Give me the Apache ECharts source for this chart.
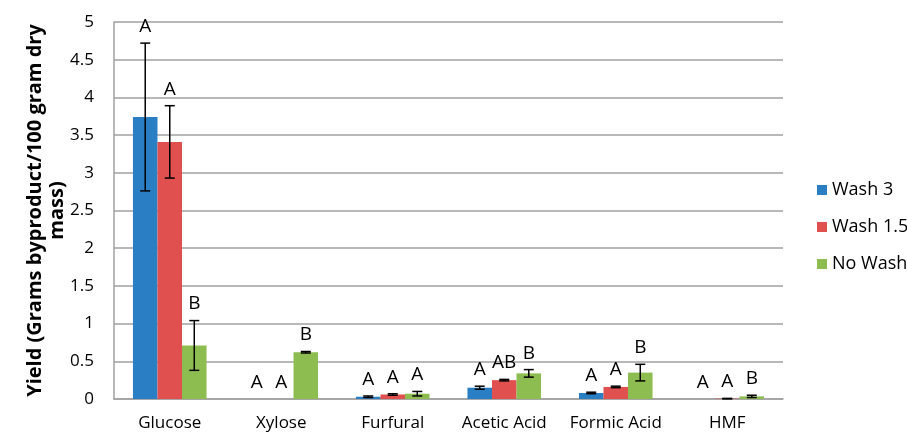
<!DOCTYPE html>
<html><head><meta charset="utf-8">
<script src="https://cdn.jsdelivr.net/npm/echarts@6/dist/echarts.min.js"></script>
<style>html,body{margin:0;padding:0;background:#fff}#c{width:907px;height:433px}</style>
</head><body><div id="c"></div>
<script>
const categories = ['Glucose', 'Xylose', 'Furfural', 'Acetic Acid', 'Formic Acid', 'HMF'];
const seriesNames = ['Wash 3', 'Wash 1.5', 'No Wash'];
const wash3 = [3.74, 0, 0.03, 0.15, 0.08, 0];
const wash15 = [3.41, 0, 0.06, 0.25, 0.16, 0.005];
const noWash = [0.71, 0.62, 0.07, 0.34, 0.35, 0.035];
const wash3Err = [0.98, 0, 0.01, 0.02, 0.01, 0];
const wash15Err = [0.48, 0, 0.01, 0.01, 0.01, 0.003];
const noWashErr = [0.33, 0.01, 0.03, 0.05, 0.11, 0.015];
const wash3Letters = ['A', 'A', 'A', 'A', 'A', 'A'];
const wash15Letters = ['A', 'A', 'A', 'AB', 'A', 'A'];
const noWashLetters = ['B', 'B', 'A', 'B', 'B', 'B'];
const yTicks = { min: 0, max: 5, interval: 0.5 };

const colors = ['#2A7FC4', '#E0504E', '#8DBD50'];
const values = [wash3, wash15, noWash];
const errs = [wash3Err, wash15Err, noWashErr];
const letters = [wash3Letters, wash15Letters, noWashLetters];
const catGap = 0.34;
const FONT = 'Open Sans';

const chart = echarts.init(document.getElementById('c'));
const series = [];
values.forEach((vals, s) => {
  series.push({
    name: seriesNames[s], type: 'bar', data: vals,
    barGap: '0%', barCategoryGap: (catGap * 100) + '%',
    itemStyle: { color: colors[s] }
  });
});
values.forEach((vals, s) => {
  series.push({
    name: 'err' + s, type: 'custom', z: 5,
    data: vals.map((v, i) => [i, v, errs[s][i]]),
    encode: { x: 0, y: 1 },
    renderItem: function (params, api) {
      const i = api.value(0), v = api.value(1), e = api.value(2);
      const band = api.size([1, 0])[0];
      const bw = band * (1 - catGap) / 3;
      const cx = api.coord([i, 0])[0] + (s - 1) * bw;
      const yTop = api.coord([i, v + e])[1];
      const yBot = api.coord([i, Math.max(v - e, 0)])[1];
      const children = [];
      if (e > 0) {
        const cap = 5;
        const st = { stroke: '#000', lineWidth: 1.5 };
        children.push({ type: 'line', shape: { x1: cx, y1: yTop, x2: cx, y2: yBot }, style: st });
        children.push({ type: 'line', shape: { x1: cx - cap, y1: yTop, x2: cx + cap, y2: yTop }, style: st });
        children.push({ type: 'line', shape: { x1: cx - cap, y1: yBot, x2: cx + cap, y2: yBot }, style: st });
      }
      children.push({
        type: 'text',
        style: {
          x: cx, y: Math.min(yTop, api.coord([i, 0])[1]) - 7,
          text: letters[s][i], fill: '#000',
          font: '19px "' + FONT + '"', align: 'center', verticalAlign: 'bottom'
        }
      });
      return { type: 'group', children: children };
    }
  });
});

chart.setOption({
  animation: false,
  grid: { left: 114, right: 124, top: 22, bottom: 34 },
  legend: {
    data: seriesNames, orient: 'vertical', left: 812, top: 176,
    itemWidth: 10, itemHeight: 10, itemGap: 19, icon: 'rect',
    textStyle: { fontFamily: FONT, fontSize: 18, color: '#000' }
  },
  xAxis: {
    type: 'category', data: categories,
    axisLine: { lineStyle: { color: '#a0a0a0', width: 1.5 } },
    axisTick: { show: false },
    axisLabel: { fontFamily: FONT, fontSize: 17, color: '#000', margin: 16, interval: 0, hideOverlap: false }
  },
  yAxis: {
    type: 'value', min: yTicks.min, max: yTicks.max, interval: yTicks.interval,
    name: 'Yield (Grams byproduct/100 gram dry\nmass)',
    nameLocation: 'middle', nameGap: 46, nameMoveOverlap: false,
    nameTextStyle: { fontFamily: FONT, fontSize: 20, fontWeight: 'bold', color: '#000', lineHeight: 22 },
    axisLine: { show: true, lineStyle: { color: '#a0a0a0', width: 1.5 } },
    axisTick: { show: false },
    splitLine: { lineStyle: { color: '#a0a0a0', width: 1.5 } },
    axisLabel: { fontFamily: FONT, fontSize: 17, color: '#000', margin: 20 }
  },
  series: series
});
</script></body></html>
